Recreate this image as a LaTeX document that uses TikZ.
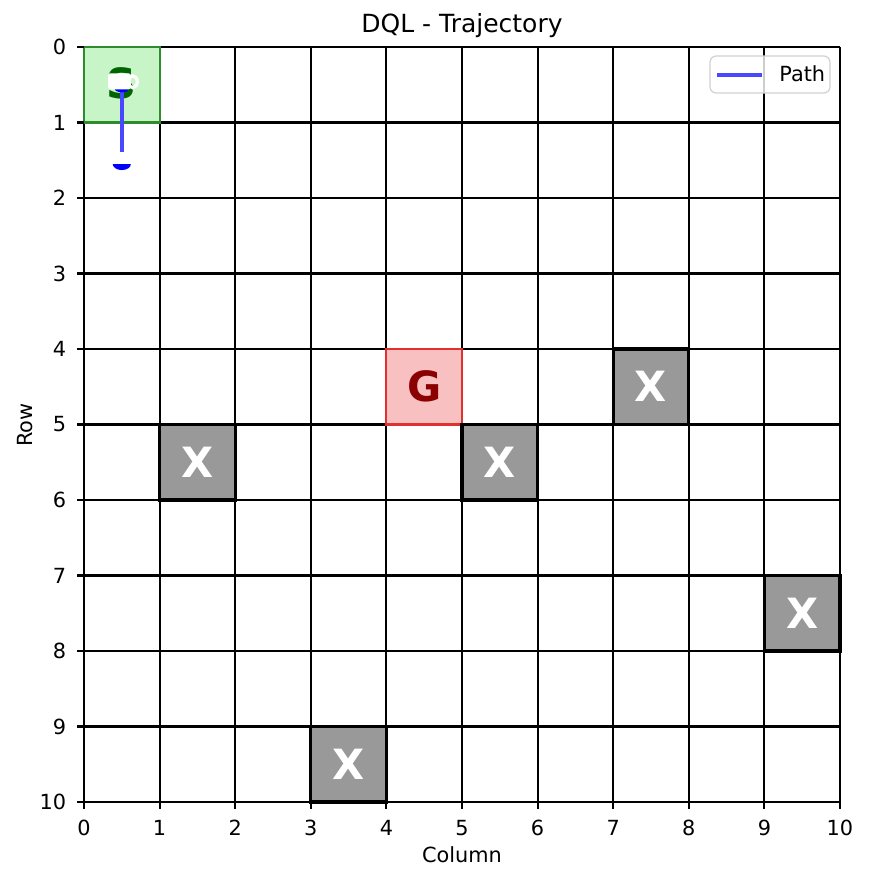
\documentclass[tikz,border=0pt]{standalone}
\usepackage{fontspec}
\setmainfont{DejaVu Sans}
\definecolor{obst}{HTML}{999999}
\definecolor{goalfill}{HTML}{F8C0C0}
\definecolor{goalline}{HTML}{E03030}
\definecolor{goaltext}{HTML}{8B0000}
\definecolor{startfill}{HTML}{C8F5C8}
\definecolor{startline}{HTML}{2E8B2E}
\definecolor{starttext}{HTML}{006400}
\definecolor{pathblue}{HTML}{4848FF}
\tikzset{
  obstacle/.style={fill=obst, draw=black, line width=1.5pt},
  letter/.style={font=\bfseries\fontsize{20}{20}\selectfont},
  ticklab/.style={font=\fontsize{10}{12}\selectfont},
  gridline/.style={draw=black, line width=1pt}
}
\begin{document}
\begin{tikzpicture}[x=0.48pt,y=-0.48pt]
\useasboundingbox (0,0) rectangle (869,881);
\fill[white] (0,0) rectangle (869,881);
\begin{scope}[shift={(84,47)}, xscale=75.6, yscale=75.5]
  % start, goal
  \fill[startfill] (0,0) rectangle (1,1);
  \fill[goalfill] (4,4) rectangle (5,5);
  % grid
  \foreach \i in {0,...,10} {
    \draw[gridline] (\i,0) -- (\i,10);
    \draw[gridline] (0,\i) -- (10,\i);
  }
  \draw[draw=startline, line width=1pt] (0,0) rectangle (1,1);
  \draw[draw=goalline, line width=1pt] (4,4) rectangle (5,5);
  \node[letter, text=starttext] (S) at (0.5,0.48) {S};
  \node[letter, text=goaltext] (G) at (4.5,4.5) {G};
  % obstacles
  \foreach \r/\c [count=\k] in {4/7,5/1,5/5,7/9,9/3} {
    \draw[obstacle] (\c,\r) rectangle (\c+1,\r+1);
    \node[letter, text=white] (X\k) at (\c+0.5,\r+0.5) {X};
  }
  % ticks
  \foreach \i in {0,...,10} {
    \draw[line width=1pt] (\i,10) -- ++(0,0.093);
    \node[ticklab, anchor=north] (cx\i) at (\i,10.14) {\i};
    \draw[line width=1pt] (0,\i) -- ++(-0.093,0);
    \node[ticklab, anchor=east] (ry\i) at (-0.14,\i) {\i};
  }
  % path
  \coordinate (p0) at (0.5,0.5);
  \coordinate (p1) at (0.5,1.39);
  \draw[pathblue, line width=2pt] (p0) -- (p1);
  \fill[blue] (0.38,1.55) arc[start angle=180, end angle=360, x radius=0.12, y radius=-0.08] -- cycle;
  \fill[blue] (0.5,0.56) ellipse[x radius=0.09, y radius=0.04];
  % white marker
  \fill[white, rounded corners=1pt] (0.32,0.35) rectangle (0.62,0.56);
  \draw[white, line width=1.5pt] (0.645,0.46) ellipse[x radius=0.06, y radius=0.08];
\end{scope}
% legend
\draw[draw=black!18, fill=white, fill opacity=0.8, rounded corners=3pt, line width=0.6pt] (710,56) rectangle (830,93);
\draw[pathblue, line width=1.6pt] (717,75) -- (762,75);
\node[ticklab, anchor=west] (legtxt) at (772,74) {Path};
% titles
\node[font=\fontsize{12}{14}\selectfont] (title) at (462,26) {DQL - Trajectory};
\node[ticklab] (xlab) at (462,855) {Column};
\node[ticklab, rotate=90] (ylab) at (25,425) {Row};
\end{tikzpicture}
\end{document}
